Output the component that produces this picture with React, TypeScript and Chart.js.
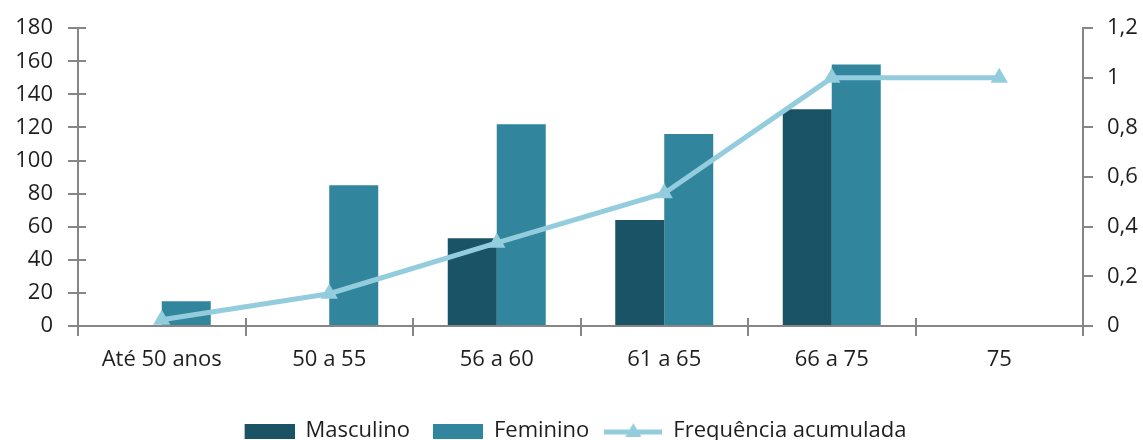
import React, { useEffect, useRef } from 'react';
import { Chart, registerables } from 'chart.js';

Chart.register(...registerables);

const categories = ['Até 50 anos', '50 a 55', '56 a 60', '61 a 65', '66 a 75', '75'];
const masculino = [0, 0, 53, 64, 131, 0];
const feminino = [15, 85, 122, 116, 158, 0];
const frequenciaAcumulada = [0.025, 0.13, 0.335, 0.535, 1, 1];
const seriesNames = ['Masculino', 'Feminino', 'Frequência acumulada'];
const leftTickValues = [0, 20, 40, 60, 80, 100, 120, 140, 160, 180];
const rightTickLabels = ['0', '0,2', '0,4', '0,6', '0,8', '1', '1,2'];

const COLOR_MASC = '#1a5366';
const COLOR_FEM = '#31859c';
const COLOR_LINE = '#93cddd';
const AXIS = '#868686';
const TEXT = '#1e1e1e';
const FONT = "'Open Sans', sans-serif";
const FONT_SIZE = 22;

const W = 1143;
const H = 452;

function makeBarIcon(color: string) {
  const c = document.createElement('canvas');
  c.width = 58;
  c.height = 15;
  const g = c.getContext('2d')!;
  g.fillStyle = color;
  g.fillRect(8, 0, 50, 15);
  return c;
}

function makeLineIcon(color: string) {
  const c = document.createElement('canvas');
  c.width = 58;
  c.height = 18;
  const g = c.getContext('2d')!;
  g.strokeStyle = color;
  g.lineWidth = 5;
  g.beginPath();
  g.moveTo(0, 10);
  g.lineTo(58, 10);
  g.stroke();
  g.fillStyle = color;
  g.beginPath();
  g.moveTo(29, 1);
  g.lineTo(37, 15);
  g.lineTo(21, 15);
  g.closePath();
  g.fill();
  return c;
}

const innerTicks = {
  id: 'innerTicks',
  afterDraw(chart: any) {
    const { ctx, scales } = chart;
    const xs = scales.x;
    const ys = scales.y;
    ctx.save();
    ctx.strokeStyle = AXIS;
    ctx.lineWidth = 2;
    ctx.beginPath();
    ys.ticks.forEach((_: any, i: number) => {
      const py = Math.round(ys.getPixelForTick(i));
      ctx.moveTo(ys.right, py);
      ctx.lineTo(ys.right + 8, py);
    });
    for (let i = 0; i <= categories.length; i++) {
      const px = Math.round(xs.getPixelForValue(i - 0.5));
      ctx.moveTo(px, xs.top);
      ctx.lineTo(px, xs.top - 8);
    }
    ctx.stroke();
    ctx.restore();
  },
};

export default function App() {
  const ref = useRef<HTMLCanvasElement | null>(null);

  useEffect(() => {
    let chart: Chart | null = null;
    let cancelled = false;
    const build = () => {
      if (cancelled || !ref.current) return;
      const icons = [makeBarIcon(COLOR_MASC), makeBarIcon(COLOR_FEM), makeLineIcon(COLOR_LINE)];
      const colors = [COLOR_MASC, COLOR_FEM, COLOR_LINE];
      chart = new Chart(ref.current, {
        type: 'bar',
        data: {
          labels: categories,
          datasets: [
            {
              type: 'line',
              label: seriesNames[2],
              data: frequenciaAcumulada,
              yAxisID: 'y1',
              borderColor: COLOR_LINE,
              backgroundColor: COLOR_LINE,
              borderWidth: 5,
              pointStyle: 'triangle',
              pointRadius: 10,
              pointBackgroundColor: COLOR_LINE,
              pointBorderColor: COLOR_LINE,
              pointBorderWidth: 0,
              tension: 0,
              order: 0,
            } as any,
            {
              type: 'bar',
              label: seriesNames[0],
              data: masculino,
              yAxisID: 'y',
              backgroundColor: COLOR_MASC,
              barPercentage: 1,
              categoryPercentage: 0.585,
              order: 1,
            },
            {
              type: 'bar',
              label: seriesNames[1],
              data: feminino,
              yAxisID: 'y',
              backgroundColor: COLOR_FEM,
              barPercentage: 1,
              categoryPercentage: 0.585,
              order: 1,
            },
          ],
        },
        options: {
          responsive: false,
          animation: false,
          layout: { padding: { top: 27, left: 0, right: 0, bottom: 0 } },
          plugins: {
            tooltip: { enabled: false },
            legend: {
              position: 'bottom',
              labels: {
                usePointStyle: true,
                pointStyleWidth: 58,
                boxHeight: 15,
                padding: 15,
                color: TEXT,
                font: { family: FONT, size: FONT_SIZE },
                generateLabels: () =>
                  seriesNames.map((name, i) => ({
                    text: name,
                    fillStyle: colors[i],
                    strokeStyle: colors[i],
                    lineWidth: 0,
                    pointStyle: icons[i] as any,
                    hidden: false,
                    datasetIndex: i,
                    fontColor: TEXT,
                  })),
              },
            },
          },
          scales: {
            x: {
              offset: true,
              grid: {
                display: true,
                drawOnChartArea: false,
                drawTicks: true,
                tickLength: 10,
                color: AXIS,
                lineWidth: 2,
                offset: true,
              },
              border: { display: true, color: AXIS, width: 2 },
              ticks: {
                color: TEXT,
                font: { family: FONT, size: FONT_SIZE },
                padding: 11,
                maxRotation: 0,
                autoSkip: false,
              },
              afterFit: (s: any) => {
                s.height = 79;
              },
            },
            y: {
              position: 'left',
              min: 0,
              max: 180,
              grid: {
                display: true,
                drawOnChartArea: false,
                drawTicks: true,
                tickLength: 10,
                color: AXIS,
                lineWidth: 2,
              },
              border: { display: true, color: AXIS, width: 2 },
              afterBuildTicks: (s: any) => {
                s.ticks = leftTickValues.map((v) => ({ value: v }));
              },
              ticks: {
                color: TEXT,
                font: { family: FONT, size: FONT_SIZE },
                padding: 15,
                callback: (v: any) => String(v),
              },
              afterFit: (s: any) => {
                s.width = 78;
              },
            },
            y1: {
              position: 'right',
              min: 0,
              max: 1.2,
              grid: {
                display: true,
                drawOnChartArea: false,
                drawTicks: true,
                tickLength: 10,
                color: AXIS,
                lineWidth: 2,
              },
              border: { display: true, color: AXIS, width: 2 },
              afterBuildTicks: (s: any) => {
                s.ticks = rightTickLabels.map((_, i) => ({ value: i * 0.2 }));
              },
              ticks: {
                color: TEXT,
                font: { family: FONT, size: FONT_SIZE },
                padding: 14,
                callback: (_v: any, i: number) => rightTickLabels[i],
              },
              afterFit: (s: any) => {
                s.width = 60;
              },
            },
          },
        },
        plugins: [innerTicks],
      });
    };
    const fonts: any = (document as any).fonts;
    if (fonts && fonts.load) {
      fonts.load(`${FONT_SIZE}px "Open Sans"`).then(build, build);
    } else {
      build();
    }
    return () => {
      cancelled = true;
      if (chart) chart.destroy();
    };
  }, []);

  return (
    <div
      style={{
        position: 'fixed',
        left: 0,
        top: 0,
        width: W,
        height: 440,
        overflow: 'hidden',
        background: '#ffffff',
      }}
    >
      <canvas ref={ref} width={W} height={H} style={{ width: W, height: H, display: 'block' }} />
    </div>
  );
}
